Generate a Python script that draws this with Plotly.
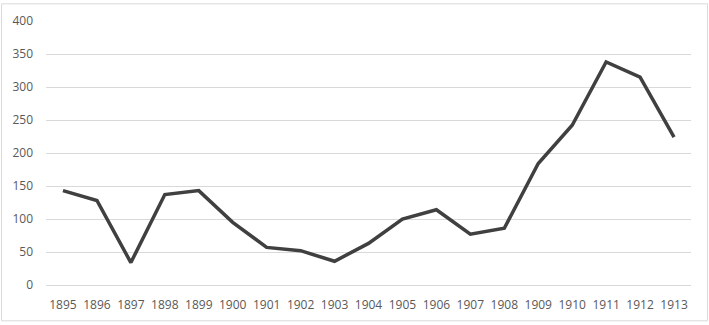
import plotly.graph_objects as go

years = [str(y) for y in range(1895, 1914)]
values = [143, 128, 34, 137, 143, 95, 57, 52, 36, 63, 100, 114, 77, 86, 184, 242, 338, 315, 224]
y_ticks = [0, 50, 100, 150, 200, 250, 300, 350, 400]

W, H = 709, 325
L, R, T, B = 45, 18, 18, 38

fig = go.Figure()
fig.add_trace(go.Scatter(x=years, y=values, mode="lines",
                         line=dict(color="#404040", width=3.5), hoverinfo="skip"))

pw = W - L - R
ph = H - T - B
fig.add_shape(type="rect", xref="paper", yref="paper",
              x0=-(L - 0.5) / pw, x1=1 + (R - 1.5) / pw,
              y0=-(B - 1.5) / ph, y1=1 + (T - 0.5) / ph,
              line=dict(color="#d9d9d9", width=1), layer="below")

fig.update_layout(
    width=W, height=H,
    margin=dict(l=L, r=R, t=T, b=B),
    paper_bgcolor="white", plot_bgcolor="white",
    showlegend=False,
    font=dict(family="Open Sans, Liberation Sans, sans-serif", size=12, color="#595959"),
    xaxis=dict(type="category", range=[-0.5, len(years) - 0.5], showgrid=False,
               showline=True, linecolor="#d9d9d9", linewidth=1, ticks="",
               tickfont=dict(size=12, color="#595959"), ticklabelstandoff=9),
    yaxis=dict(range=[0, 400], tickvals=y_ticks, showgrid=True, gridcolor="#d9d9d9",
               gridwidth=1, zeroline=False, showline=False, ticks="",
               tickfont=dict(size=12, color="#595959"), ticklabelstandoff=12),
)

fig.write_html("out.html")
